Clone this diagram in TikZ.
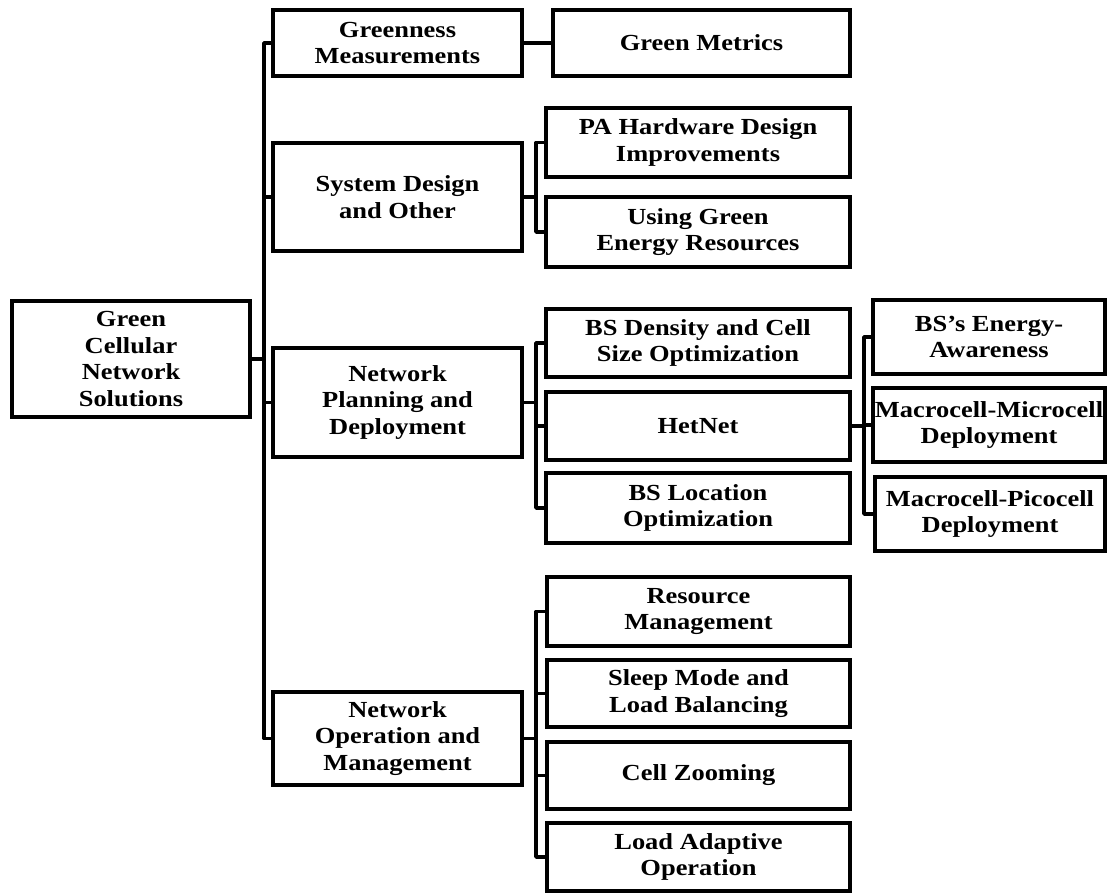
\documentclass[tikz,border=0pt]{standalone}
\usepackage{fontspec}
\setmainfont{Liberation Serif}[FakeStretch=1.15]
\begin{document}
\begin{tikzpicture}[x=1pt,y=-1pt,
  box/.style={draw=black, line width=4pt, fill=white, inner sep=0pt, align=center,
    font=\fontsize{23}{26.4}\selectfont\bfseries},
  link/.style={draw=black, line width=3.5pt, line join=round}]
\useasboundingbox (0,0) rectangle (1107,893);
% nodes
\node[box, minimum width=238pt, minimum height=116pt] (root) at (131,359) {Green\\Cellular\\Network\\Solutions};
\node[box, minimum width=249pt, minimum height=66pt] (gm) at (397.5,43) {Greenness\\Measurements};
\node[box, minimum width=297pt, minimum height=66pt] (metrics) at (701.5,43) {Green Metrics};
\node[box, minimum width=249pt, minimum height=108pt] (sd) at (397.5,197) {System Design\\and Other};
\node[box, minimum width=304pt, minimum height=69pt] (pa) at (698,142.5) {PA Hardware Design\\Improvements};
\node[box, minimum width=304pt, minimum height=70pt] (ug) at (698,232) {Using Green\\Energy Resources};
\node[box, minimum width=249pt, minimum height=109pt] (np) at (397.5,402.5) {Network\\Planning and\\Deployment};
\node[box, minimum width=304pt, minimum height=68pt] (bsd) at (698,343) {BS Density and Cell\\Size Optimization};
\node[box, minimum width=304pt, minimum height=68pt] (het) at (698,426) {HetNet};
\node[box, minimum width=304pt, minimum height=70pt] (bsl) at (698,508) {BS Location\\Optimization};
\node[box, minimum width=232pt, minimum height=74pt] (bse) at (989,337) {BS’s Energy-\\Awareness};
\node[box, minimum width=232pt, minimum height=74pt] (mm) at (989,425) {Macrocell-Microcell\\Deployment};
\node[box, minimum width=230pt, minimum height=74pt] (mp) at (990,514) {Macrocell-Picocell\\Deployment};
\node[box, minimum width=249pt, minimum height=93pt] (nom) at (397.5,738.5) {Network\\Operation and\\Management};
\node[box, minimum width=303pt, minimum height=69pt] (rm) at (698.5,611.5) {Resource\\Management};
\node[box, minimum width=303pt, minimum height=67pt] (sm) at (698.5,693.5) {Sleep Mode and\\Load Balancing};
\node[box, minimum width=303pt, minimum height=67pt] (cz) at (698.5,775.5) {Cell Zooming};
\node[box, minimum width=303pt, minimum height=68pt] (la) at (698.5,857) {Load Adaptive\\Operation};
% connectors
\foreach \c in {gm,sd,np,nom} \draw[link] (root.east) -- ++(12,0) |- (\c.west);
\draw[link] (gm.east) -- (metrics.west);
\foreach \c in {pa,ug} \draw[link] (sd.east) -- ++(12,0) |- (\c.west);
\foreach \c in {bsd,het,bsl} \draw[link] (np.east) -- ++(12,0) |- (\c.west);
\foreach \c in {bse,mm,mp} \draw[link] (het.east) -- ++(12,0) |- (\c.west);
\foreach \c in {rm,sm,cz,la} \draw[link] (nom.east) -- ++(12,0) |- (\c.west);
\end{tikzpicture}
\end{document}
